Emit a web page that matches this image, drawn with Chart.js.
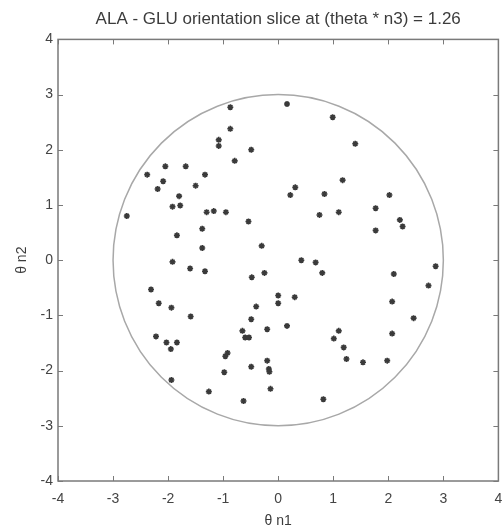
<!DOCTYPE html>
<html>
<head>
<meta charset="utf-8">
<script src="https://cdn.jsdelivr.net/npm/chart.js@4/dist/chart.umd.min.js"></script>
<style>
  html, body { margin: 0; padding: 0; background: #fff; }
  #wrap { width: 504px; height: 531px; position: relative; }
</style>
</head>
<body>
<div id="wrap"><canvas id="sliceChart"></canvas></div>
<script>
// orientation samples in the slice (theta*n1, theta*n2)
var thetaN1 = [
  -0.87, -0.87, -1.08, -1.08, -0.49, -0.79, -2.05, -1.68, -2.38, -1.33,
  -2.09, -2.19, -1.50, -1.80, -1.92, -1.78, -2.75, -1.30, -1.17, -0.95,
  -0.54, -1.38, -1.84, -1.38, -0.30, -1.92, -1.60, -1.33, -0.48, -0.25,
  -2.31, -2.17, -1.94, -1.59, -0.40, -0.49, 0.00, 0.00, 0.30, -0.20,
  -0.65, -0.60, -0.53, -2.22, -2.03, -1.84, -1.95, -0.92, -0.96, -0.20,
  -0.49, -0.17, -0.16, -0.98, -1.94, -0.14, -1.26, -0.63, 0.42, 0.68,
  0.80, 2.10, 2.86, 2.73, 2.07, 2.46, 0.16, 1.10, 1.01, 1.19,
  1.24, 1.54, 1.98, 2.07, 0.82, 0.16, 0.99, 1.40, 1.17, 0.31,
  0.22, 0.84, 2.02, 1.77, 0.75, 1.10, 2.21, 2.26, 1.77
];
var thetaN2 = [
  2.77, 2.38, 2.18, 2.07, 2.00, 1.80, 1.70, 1.70, 1.55, 1.55,
  1.43, 1.29, 1.35, 1.16, 0.97, 0.99, 0.80, 0.87, 0.89, 0.87,
  0.70, 0.57, 0.45, 0.22, 0.26, -0.03, -0.15, -0.20, -0.31, -0.23,
  -0.53, -0.78, -0.86, -1.02, -0.84, -1.07, -0.64, -0.78, -0.67, -1.25,
  -1.28, -1.40, -1.40, -1.38, -1.49, -1.49, -1.61, -1.68, -1.74, -1.82,
  -1.93, -1.97, -2.02, -2.03, -2.17, -2.33, -2.38, -2.55, 0.00, -0.04,
  -0.23, -0.25, -0.11, -0.46, -0.75, -1.05, -1.19, -1.28, -1.42, -1.58,
  -1.79, -1.85, -1.82, -1.33, -2.52, 2.83, 2.59, 2.11, 1.45, 1.32,
  1.18, 1.20, 1.18, 0.94, 0.82, 0.87, 0.73, 0.61, 0.54
];
var axisTicks = [-4, -3, -2, -1, 0, 1, 2, 3, 4];
var boundaryRadius = 3;

var points = thetaN1.map(function (x, i) { return { x: x, y: thetaN2[i] }; });

var fontFamily = '"Liberation Sans", Arial, sans-serif';

// boundary circle, box and inward tick marks (matlab-like frame)
var framePlugin = {
  id: 'frame',
  beforeDatasetsDraw: function (chart) {
    var ctx = chart.ctx, xs = chart.scales.x, ys = chart.scales.y;
    var cx = xs.getPixelForValue(0), cy = ys.getPixelForValue(0);
    var rx = Math.abs(xs.getPixelForValue(boundaryRadius) - cx);
    var ry = Math.abs(ys.getPixelForValue(boundaryRadius) - cy);
    ctx.save();
    ctx.strokeStyle = '#a8a8a8';
    ctx.lineWidth = 1.5;
    ctx.beginPath();
    ctx.ellipse(cx, cy, rx, ry, 0, 0, Math.PI * 2);
    ctx.stroke();
    ctx.restore();
  },
  afterDraw: function (chart) {
    var ctx = chart.ctx, a = chart.chartArea;
    var xs = chart.scales.x, ys = chart.scales.y;
    var len = 5;
    ctx.save();
    ctx.strokeStyle = '#7a7a7a';
    ctx.lineWidth = 1.5;
    ctx.strokeRect(a.left, a.top, a.right - a.left, a.bottom - a.top);
    ctx.lineWidth = 1;
    ctx.beginPath();
    axisTicks.forEach(function (v) {
      var px = Math.round(xs.getPixelForValue(v)) + 0.5;
      ctx.moveTo(px, a.bottom); ctx.lineTo(px, a.bottom - len);
      ctx.moveTo(px, a.top); ctx.lineTo(px, a.top + len);
      var py = Math.round(ys.getPixelForValue(v)) + 0.5;
      ctx.moveTo(a.left, py); ctx.lineTo(a.left + len, py);
      ctx.moveTo(a.right, py); ctx.lineTo(a.right - len, py);
    });
    ctx.stroke();
    ctx.restore();
  }
};

new Chart(document.getElementById('sliceChart'), {
  type: 'scatter',
  data: {
    datasets: [{
      label: 'orientations',
      data: points,
      pointStyle: 'star',
      pointRadius: 3,
      borderWidth: 1.6,
      borderColor: '#3a3a3a',
      backgroundColor: '#3a3a3a'
    }]
  },
  options: {
    responsive: true,
    maintainAspectRatio: false,
    animation: false,
    layout: { padding: 0 },
    plugins: {
      legend: { display: false },
      tooltip: { enabled: false },
      title: {
        display: true,
        fullSize: false,
        text: 'ALA - GLU orientation slice at (theta * n3) = 1.26',
        color: '#3c3c3c',
        font: { family: fontFamily, size: 17, weight: 'normal' },
        padding: { top: 9, bottom: 10 }
      }
    },
    scales: {
      x: {
        type: 'linear',
        min: -4, max: 4,
        afterBuildTicks: function (s) { s.ticks = axisTicks.map(function (v) { return { value: v }; }); },
        afterFit: function (s) { s.height = 50; s.paddingRight = 3; s.paddingLeft = 0; },
        grid: { display: false, drawTicks: false },
        border: { display: false },
        ticks: { color: '#444', padding: 10, font: { family: fontFamily, size: 14 }, maxRotation: 0 },
        title: { display: true, text: 'θ n1', color: '#3c3c3c', padding: { top: 4, bottom: 1 }, font: { family: fontFamily, size: 14 } }
      },
      y: {
        type: 'linear',
        min: -4, max: 4,
        afterBuildTicks: function (s) { s.ticks = axisTicks.map(function (v) { return { value: v }; }); },
        afterFit: function (s) { s.width = 58; },
        grid: { display: false, drawTicks: false },
        border: { display: false },
        ticks: { color: '#444', padding: 5, font: { family: fontFamily, size: 14 } },
        title: { display: true, text: 'θ n2', color: '#3c3c3c', padding: { top: 14, bottom: 0 }, font: { family: fontFamily, size: 14 } }
      }
    }
  },
  plugins: [framePlugin]
});
</script>
</body>
</html>
